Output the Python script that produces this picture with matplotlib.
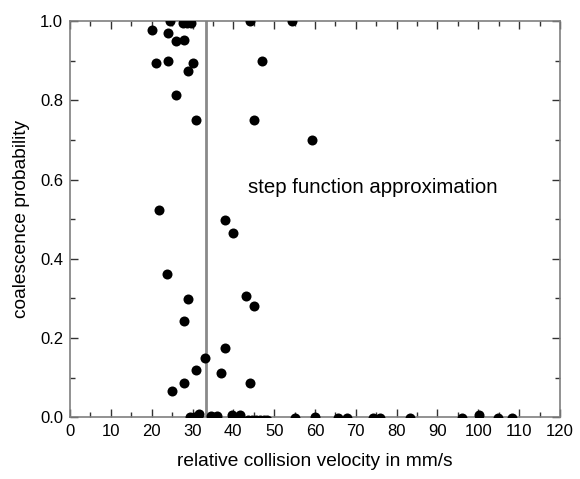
import matplotlib
matplotlib.use("Agg")
import matplotlib.pyplot as plt
from matplotlib.ticker import MultipleLocator

plt.rcParams["font.family"] = ["Liberation Sans", "DejaVu Sans"]

# collision velocity (mm/s) and measured coalescence probability
velocity = [
    20.0, 21.0, 23.9, 23.9, 24.5, 26.0, 28.0, 26.0, 27.6, 28.6, 29.6, 29.0, 30.0, 30.9, 32.7,
    44.1, 54.3, 47.1, 45.1, 59.2,
    21.9, 38.0, 40.0, 23.8, 29.0, 43.1, 45.1, 27.9, 38.0, 33.1, 30.9, 37.0, 27.9, 25.0, 44.1,
    29.4, 30.4, 31.6, 34.6, 36.0, 39.6, 41.6,
    43.5, 44.5, 45.5, 46.5, 47.5, 48.3,
    55.0, 60.0, 65.7, 67.8, 74.3, 75.9, 83.2, 96.0, 100.2, 104.9, 108.2,
]
probability = [
    0.978, 0.894, 0.970, 0.900, 1.0, 0.950, 0.953, 0.814, 0.996, 0.996, 0.996, 0.874, 0.894, 0.750, 1.014,
    1.0, 1.0, 0.900, 0.750, 0.700,
    0.523, 0.498, 0.464, 0.362, 0.298, 0.306, 0.280, 0.242, 0.175, 0.150, 0.119, 0.112, 0.087, 0.067, 0.086,
    0.0, 0.0, 0.009, 0.003, 0.003, 0.007, 0.007,
    -0.008, -0.008, -0.008, -0.008, -0.008, -0.008,
    -0.003, 0.0, -0.002, -0.002, -0.002, -0.002, -0.003, -0.003, 0.006, -0.003, -0.003,
]

step_velocity = 33.2  # threshold of the step function approximation

fig = plt.figure(figsize=(5.8, 4.79), dpi=100)
ax = fig.add_axes([0.1207, 0.1288, 0.8448, 0.8274])

ax.scatter(velocity, probability, s=52, color="black", zorder=3, clip_on=True, linewidths=0)
ax.axvline(step_velocity, color="#8a8a8a", linewidth=2.0, zorder=2)
ax.text(43.7, 0.579, "step function approximation", fontsize=14.7, va="center", ha="left")

ax.set_xlim(0, 120)
ax.set_ylim(0, 1.0)
ax.xaxis.set_major_locator(MultipleLocator(10))
ax.xaxis.set_minor_locator(MultipleLocator(5))
ax.yaxis.set_major_locator(MultipleLocator(0.2))
ax.yaxis.set_minor_locator(MultipleLocator(0.1))
ax.yaxis.set_major_formatter(plt.FormatStrFormatter("%.1f"))

ax.tick_params(which="both", direction="in", top=True, right=True, color="#333333",
               labelsize=12, width=1.0)
ax.tick_params(which="major", length=6, pad=5)
ax.tick_params(which="minor", length=3.5)
for spine in ax.spines.values():
    spine.set_color("#7f7f7f")
    spine.set_linewidth(1.2)

ax.set_xlabel("relative collision velocity in mm/s", fontsize=13.8, labelpad=10)
ax.set_ylabel("coalescence probability", fontsize=13.8, labelpad=7)

plt.savefig("out.png", dpi=100)
plt.close(fig)
